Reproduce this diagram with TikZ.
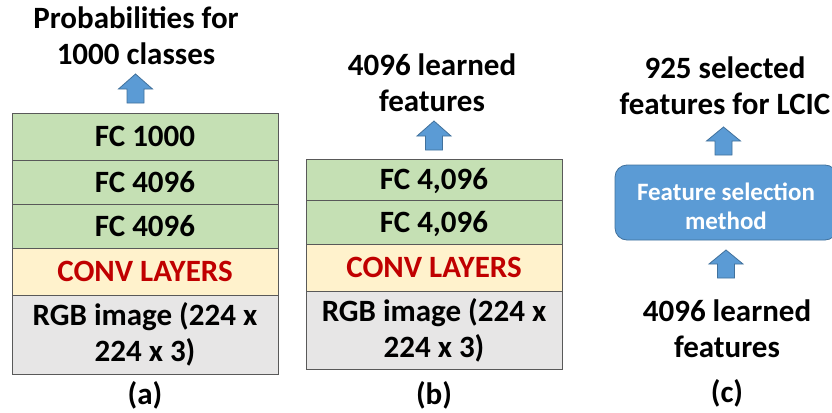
\documentclass[tikz,border=0pt]{standalone}
\usepackage{fontspec}
\setmainfont{Carlito}
\usetikzlibrary{positioning}
\definecolor{fcgreen}{HTML}{C5E0B4}
\definecolor{convyel}{HTML}{FFF2CC}
\definecolor{rgbgray}{HTML}{E7E6E6}
\definecolor{convred}{HTML}{C00000}
\definecolor{bluefill}{HTML}{5B9BD5}
\definecolor{blueedge}{HTML}{41719C}
\definecolor{edgegray}{HTML}{595959}
\tikzset{
  every node/.style={font=\fontsize{31}{36}\selectfont\bfseries, inner sep=0pt, align=center},
  layer/.style={draw=edgegray, line width=0.8pt, minimum width=#1},
  oneline/.style={text height=20pt, text depth=0pt},
  uparr/.style={fill=bluefill, draw=blueedge, line width=0.8pt},
  txt/.style={text=black}
}
\newcommand{\UpArr}[4]{% cx, tip, shoulder, bottom
  \path[uparr] (#1-17,#3) -- (#1,#2) -- (#1+17,#3) -- (#1+8.5,#3) -- (#1+8.5,#4) -- (#1-8.5,#4) -- (#1-8.5,#3) -- cycle;}
\begin{document}
\begin{tikzpicture}[x=1pt,y=-1pt]
\useasboundingbox (0,0) rectangle (832,412);
% ---- (a)
\node[layer=266, oneline, fill=fcgreen, minimum height=47] (a1) at (145,136.5) {FC 1000};
\node[layer=266, oneline, fill=fcgreen, minimum height=44] (a2) at (145,182) {FC 4096};
\node[layer=266, oneline, fill=fcgreen, minimum height=44] (a3) at (145,226) {FC 4096};
\node[layer=266, oneline, fill=convyel, minimum height=47, text=convred] (a4) at (145,271.5) {CONV LAYERS};
\node[layer=266, fill=rgbgray, minimum height=79] (a5) at (145,334.5) {RGB image (224 x\\224 x 3)};
\node[txt] (atitle) at (136,36) {Probabilities for\\1000 classes};
\node[txt] (alab) at (145,395) {(a)};
\UpArr{135.5}{74}{89}{103}
% ---- (b)
\node[layer=256, oneline, fill=fcgreen, minimum height=41] (b1) at (434,179.5) {FC 4,096};
\node[layer=256, oneline, fill=fcgreen, minimum height=44] (b2) at (434,222) {FC 4,096};
\node[layer=256, oneline, fill=convyel, minimum height=47, text=convred] (b3) at (434,267.5) {CONV LAYERS};
\node[layer=256, fill=rgbgray, minimum height=78] (b4) at (434,330) {RGB image (224 x\\224 x 3)};
\node[txt] (btitle) at (432,83) {4096 learned\\features};
\node[txt] (blab) at (434,395) {(b)};
\UpArr{434}{121}{136}{150}
% ---- (c)
\node[txt] (ctitle) at (725,85.5) {925 selected\\features for LCIC};
\node[fill=bluefill, draw=blueedge, line width=0.8pt, rounded corners=12pt, minimum width=222, minimum height=75] (csel) at (726,202.5) {};
\node[text=white, font=\fontsize{25}{29}\selectfont\bfseries] (cseltxt) at (726,206.5) {Feature selection\\method};
\node[txt] (cin) at (727,329) {4096 learned\\features};
\node[txt] (clab) at (727,393) {(c)};
\UpArr{723.5}{127}{141}{155}
\UpArr{726}{250}{264}{278}
\end{tikzpicture}
\end{document}
